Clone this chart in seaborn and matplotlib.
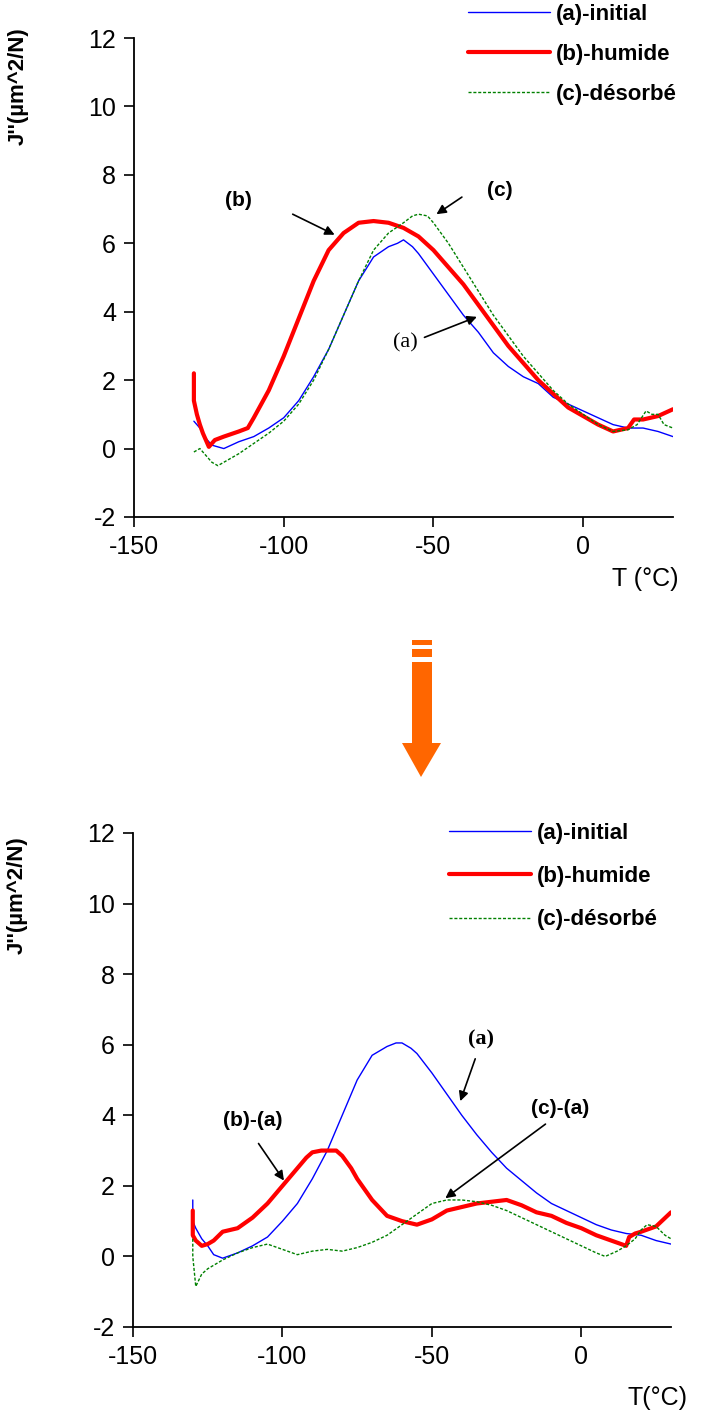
import numpy as np
import pandas as pd
import seaborn as sns
import matplotlib.pyplot as plt
from matplotlib.patches import Rectangle, Polygon

# ---- données ----
# panneau haut
t_a_top = [-130, -128, -126, -124, -122, -120, -115, -110, -105, -100, -95, -90, -85, -80, -75, -70,
           -65, -62, -60, -57, -55, -50, -45, -40, -35, -30, -25, -20, -15, -10, -5, 0, 5, 10, 15, 20, 25, 30]
j_a_top = [0.8, 0.6, 0.3, 0.1, 0.05, 0.0, 0.2, 0.35, 0.6, 0.9, 1.4, 2.1, 2.9, 3.9, 4.9, 5.6,
           5.9, 6.0, 6.1, 5.9, 5.7, 5.1, 4.5, 3.9, 3.4, 2.8, 2.4, 2.1, 1.9, 1.5, 1.3, 1.1, 0.9, 0.7, 0.6, 0.6, 0.5, 0.35]

t_b_top = [-130, -130, -129, -128, -127, -125, -123, -120, -115, -112, -110, -105, -100, -95, -90, -85,
           -80, -75, -70, -65, -60, -55, -50, -45, -40, -35, -30, -25, -20, -15, -10, -5, 0, 5, 10,
           15, 17, 20, 25, 30]
j_b_top = [2.2, 1.4, 1.0, 0.7, 0.45, 0.05, 0.25, 0.35, 0.5, 0.6, 0.9, 1.7, 2.7, 3.8, 4.9, 5.8,
           6.3, 6.6, 6.65, 6.6, 6.45, 6.2, 5.8, 5.3, 4.8, 4.2, 3.6, 3.0, 2.5, 2.0, 1.6, 1.2, 0.95, 0.7, 0.5,
           0.6, 0.85, 0.85, 0.95, 1.15]

t_c_top = [-130, -128, -126, -124, -122, -120, -115, -110, -105, -100, -95, -90, -85, -80, -75, -70,
           -65, -60, -57, -55, -52, -50, -45, -40, -35, -30, -25, -20, -15, -10, -5, 0, 5, 10, 15,
           18, 21, 23, 25, 27, 30]
j_c_top = [-0.1, 0.0, -0.2, -0.4, -0.5, -0.4, -0.15, 0.15, 0.45, 0.8, 1.3, 2.0, 2.9, 3.9, 4.9, 5.8,
           6.3, 6.6, 6.8, 6.85, 6.8, 6.6, 6.0, 5.3, 4.6, 3.9, 3.3, 2.7, 2.2, 1.7, 1.3, 1.0, 0.7, 0.5, 0.55,
           0.7, 1.1, 1.0, 1.0, 0.7, 0.6]

# panneau bas (différences)
t_a_bot = [-130, -130, -129, -127, -125, -123, -120, -115, -110, -105, -100, -95, -90, -85, -80, -75,
           -70, -65, -62, -60, -57, -55, -50, -45, -40, -35, -30, -25, -20, -15, -10, -5, 0, 5, 10,
           15, 20, 25, 30]
j_a_bot = [1.6, 1.0, 0.8, 0.5, 0.3, 0.05, -0.05, 0.1, 0.3, 0.55, 1.0, 1.5, 2.2, 3.0, 4.0, 5.0,
           5.7, 5.95, 6.05, 6.05, 5.9, 5.75, 5.2, 4.6, 4.0, 3.45, 2.95, 2.5, 2.15, 1.8, 1.5, 1.3, 1.1, 0.9, 0.75,
           0.65, 0.6, 0.45, 0.35]

t_ba = [-130, -130, -129, -127, -125, -123, -120, -115, -110, -105, -100, -95, -92, -90, -87, -85,
        -82, -80, -77, -75, -70, -65, -60, -55, -50, -45, -40, -35, -30, -25, -20, -15, -10, -5, 0,
        5, 10, 15, 16, 18, 20, 25, 30]
j_ba = [1.3, 0.6, 0.45, 0.3, 0.35, 0.45, 0.7, 0.8, 1.1, 1.5, 2.0, 2.5, 2.8, 2.95, 3.0, 3.0,
        3.0, 2.85, 2.5, 2.2, 1.6, 1.15, 1.0, 0.9, 1.05, 1.3, 1.4, 1.5, 1.55, 1.6, 1.45, 1.25, 1.15, 0.95, 0.8,
        0.6, 0.45, 0.3, 0.55, 0.65, 0.7, 0.85, 1.25]

t_ca = [-130, -130, -129, -127, -125, -120, -115, -110, -105, -100, -95, -90, -85, -80, -75, -70,
        -65, -60, -55, -50, -45, -40, -35, -30, -25, -20, -15, -10, -5, 0, 5, 8, 12, 15, 18, 20,
        22, 25, 28, 30]
j_ca = [0.5, 0.0, -0.85, -0.5, -0.35, -0.1, 0.1, 0.25, 0.35, 0.2, 0.05, 0.15, 0.2, 0.15, 0.25, 0.4,
        0.6, 0.9, 1.2, 1.5, 1.6, 1.6, 1.55, 1.45, 1.3, 1.1, 0.9, 0.7, 0.5, 0.3, 0.1, 0.0, 0.15, 0.3, 0.5, 0.75,
        0.9, 0.85, 0.6, 0.5]

labels = ["(a)-initial", "(b)-humide", "(c)-désorbé"]
yticks = [-2, 0, 2, 4, 6, 8, 10, 12]
xticks = [-150, -100, -50, 0]

sns.set_style("ticks")
plt.rcParams['font.family'] = ['Liberation Sans', 'DejaVu Sans']
plt.rcParams['axes.unicode_minus'] = False
plt.rcParams['text.color'] = 'black'
plt.rcParams['axes.labelcolor'] = 'black'
plt.rcParams['xtick.color'] = 'black'
plt.rcParams['ytick.color'] = 'black'

W, H = 702, 1419
fig = plt.figure(figsize=(W / 100, H / 100), dpi=100)


def px(x, y):
    # pixel -> fraction de figure
    return x / W, 1 - y / H


ax1 = fig.add_axes([134 / W, 1 - 517 / H, 539 / W, 479 / H])
ax2 = fig.add_axes([133 / W, 1 - 1327 / H, 538 / W, 494 / H])

styles = [dict(color="#0000FF", lw=1.0),
          dict(color="#FF0000", lw=3.0),
          dict(color="#008000", lw=1.0, linestyle=(0, (2.2, 1.3)))]

series_top = [(t_a_top, j_a_top), (t_b_top, j_b_top), (t_c_top, j_c_top)]
series_bot = [(t_a_bot, j_a_bot), (t_ba, j_ba), (t_ca, j_ca)]

for ax, series in [(ax1, series_top), (ax2, series_bot)]:
    for (t, j), st, lab in zip(series, styles, labels):
        df = pd.DataFrame({"T": t, "J": j})
        sns.lineplot(data=df, x="T", y="J", ax=ax, estimator=None, sort=False, label=lab, **st)
    ax.set_xlim(-150, 30)
    ax.set_ylim(-2, 12)
    ax.set_xticks(xticks)
    ax.set_yticks(yticks)
    ax.tick_params(labelsize=18, length=7, width=1.2, color="black", labelcolor="black", pad=6)
    for s in ["top", "right"]:
        ax.spines[s].set_visible(False)
    for s in ["left", "bottom"]:
        ax.spines[s].set_linewidth(1.3)
        ax.spines[s].set_color("black")
    ax.set_ylabel("J''(µm^2/N)", fontsize=16, fontweight="bold")

ax1.yaxis.set_label_coords(-0.195, 0.9)
ax2.yaxis.set_label_coords(-0.195, 0.875)

ax1.set_xlabel("T (°C)", fontsize=18)
ax1.xaxis.set_label_coords(0.948, -0.105)
ax2.set_xlabel("T(°C)", fontsize=18)
ax2.xaxis.set_label_coords(0.975, -0.12)

# légendes
ax1.legend(loc="upper left", bbox_to_anchor=px(468, 4), bbox_transform=fig.transFigure,
           frameon=False, prop={"weight": "bold", "size": 16}, handlelength=3.7,
           handletextpad=0.25, labelspacing=0.85, borderpad=0, borderaxespad=0)
ax2.legend(loc="upper left", bbox_to_anchor=px(449, 823), bbox_transform=fig.transFigure,
           frameon=False, prop={"weight": "bold", "size": 16}, handlelength=3.7,
           handletextpad=0.25, labelspacing=1.0, borderpad=0, borderaxespad=0)

arr = dict(arrowstyle="-|>", color="black", lw=1.2, mutation_scale=14, shrinkA=0, shrinkB=0)

# annotations panneau haut
ax1.annotate("", xy=(-83, 6.25), xytext=(-97, 6.85), arrowprops=arr)
ax1.text(-115, 7.25, "(b)", fontsize=15, fontweight="bold", ha="center", va="center")
ax1.annotate("", xy=(-49, 6.85), xytext=(-40.5, 7.35), arrowprops=arr)
ax1.text(-28, 7.55, "(c)", fontsize=15, fontweight="bold", ha="center", va="center")
ax1.annotate("", xy=(-35.5, 3.85), xytext=(-53, 3.25), arrowprops=arr)
ax1.text(-59.5, 3.1, "(a)", fontsize=16, family="Liberation Serif", ha="center", va="center")

# annotations panneau bas
ax2.annotate("", xy=(-40.5, 4.4), xytext=(-35.5, 5.6), arrowprops=arr)
ax2.text(-33.5, 6.15, "(a)", fontsize=16, fontweight="bold", family="Liberation Serif",
         ha="center", va="center")
ax2.annotate("", xy=(-99.5, 2.15), xytext=(-108, 3.2), arrowprops=arr)
ax2.text(-110, 3.85, "(b)-(a)", fontsize=15, fontweight="bold", ha="center", va="center")
ax2.annotate("", xy=(-45.5, 1.65), xytext=(-12, 3.75), arrowprops=arr)
ax2.text(-7, 4.2, "(c)-(a)", fontsize=15, fontweight="bold", ha="center", va="center")

# flèche orange entre les deux graphes
orange = "#FF6600"
for y0, y1 in [(640, 645), (649, 657), (662, 744)]:
    x0, yb = px(412, y1)
    fig.add_artist(Rectangle((x0, yb), 20 / W, (y1 - y0) / H, transform=fig.transFigure,
                             color=orange, lw=0))
fig.add_artist(Polygon([px(402, 743), px(441, 743), px(421, 777)], closed=True,
                       transform=fig.transFigure, color=orange, lw=0))

fig.savefig("out.png", dpi=100)
